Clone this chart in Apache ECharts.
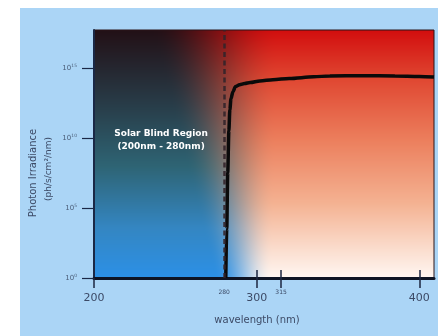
<!DOCTYPE html>
<html>
<head>
<meta charset="utf-8">
<script src="https://cdn.jsdelivr.net/npm/echarts@6/dist/echarts.min.js"></script>
<style>
  html, body { margin: 0; padding: 0; background: #ffffff; }
  #chart { width: 438px; height: 336px; }
</style>
</head>
<body>
<div id="chart"></div>
<script>
// Solar photon irradiance at ground level vs wavelength
const wavelength = [281.0, 281.6, 282.2, 282.9, 283.5, 284.2, 285.4, 287.0, 289.5, 292.6,
                    296, 302, 310, 320, 335, 345, 365, 385, 400, 409];
const irradiance = [1, 3.2e3, 3.2e7, 3.2e10, 1.0e12, 6.3e12, 2.0e13, 4.6e13, 6.3e13, 7.6e13,
                    8.9e13, 1.17e14, 1.41e14, 1.74e14, 2.29e14, 2.63e14, 2.75e14, 2.63e14, 2.45e14, 2.24e14];

const xMin = 200, xMax = 409;
const yMin = 1, yMax = Math.pow(10, 17.7);
const xLabelValues = [200, 280, 300, 315, 400];
const xMinorLabels = [280, 315];
const xTickValues = [200, 300, 315, 400];
const xInnerTickValues = [300, 315, 400];
const yTickValues = [1, 1e5, 1e10, 1e15];
const blindStart = 200, blindEnd = 280;

const grid = { left: 94, right: 4, top: 30, bottom: 58 };
const W = 438, H = 336;
const plotW = W - grid.left - grid.right;
const plotH = H - grid.top - grid.bottom;

// Two-dimensional colour wash for the plot panel: a cool/dark column on the left
// blending into a warm column on the right.
function hex(c) { return [parseInt(c.slice(1,3),16), parseInt(c.slice(3,5),16), parseInt(c.slice(5,7),16)]; }
function ramp(stops, t) {
  for (let i = 1; i < stops.length; i++) {
    if (t <= stops[i][0]) {
      const a = stops[i-1], b = stops[i];
      const k = (t - a[0]) / (b[0] - a[0]);
      return a[1].map((v, j) => v + (b[1][j] - v) * k);
    }
  }
  return stops[stops.length-1][1];
}
const leftStops = [[0, hex('#221016')], [0.3, hex('#283c48')], [0.55, hex('#2e6474')], [0.8, hex('#3486c2')], [1, hex('#2c90e6')]];
const rightStops = [[0, hex('#d20e0e')], [0.2, hex('#e04832')], [0.45, hex('#ec805e')], [0.7, hex('#f4b292')], [0.9, hex('#fbe0d2')], [1, hex('#fff6f1')]];

function buildPanel(w, h) {
  const cv = document.createElement('canvas');
  cv.width = w; cv.height = h;
  const ctx = cv.getContext('2d');
  const img = ctx.createImageData(w, h);
  for (let y = 0; y < h; y++) {
    const v = y / (h - 1);
    const L = ramp(leftStops, v), R = ramp(rightStops, v);
    const s = 56 + (121 - 56) * v;   // blend start (px from panel left)
    const e = 186 + (178 - 186) * v; // blend end
    for (let x = 0; x < w; x++) {
      let t = Math.min(1, Math.max(0, (x - s) / (e - s)));
      t = t * t * (3 - 2 * t);
      const i = (y * w + x) * 4;
      img.data[i]   = L[0] + (R[0] - L[0]) * t;
      img.data[i+1] = L[1] + (R[1] - L[1]) * t;
      img.data[i+2] = L[2] + (R[2] - L[2]) * t;
      img.data[i+3] = 255;
    }
  }
  ctx.putImageData(img, 0, 0);
  return cv;
}

const labelColor = '#3c4a66';
const font = 'DejaVu Sans';

const chart = echarts.init(document.getElementById('chart'), null, { renderer: 'canvas' });
chart.setOption({
  animation: false,
  backgroundColor: 'transparent',
  textStyle: { fontFamily: font },
  graphic: [
    { type: 'rect', z: -30, shape: { x: 20, y: 8, width: W - 20, height: H - 8 }, style: { fill: '#abd5f6' } },
    { type: 'image', z: -20, style: { image: buildPanel(plotW, plotH), x: grid.left, y: grid.top, width: plotW, height: plotH } },
    { type: 'text', x: 33, y: 173, rotation: Math.PI / 2,
      style: { text: 'Photon Irradiance', fill: labelColor, font: '10px "DejaVu Sans"', textAlign: 'center', textVerticalAlign: 'middle' } },
    { type: 'text', x: 49, y: 169, rotation: Math.PI / 2,
      style: { text: '(ph/s/cm²/nm)', fill: labelColor, font: '9px "DejaVu Sans"', textAlign: 'center', textVerticalAlign: 'middle' } }
  ],
  grid: {
    left: grid.left, right: grid.right, top: grid.top, bottom: grid.bottom,
    show: true, borderColor: '#2a1418', borderWidth: 1, backgroundColor: 'transparent'
  },
  xAxis: [
    {
      type: 'value', min: xMin, max: xMax,
      name: 'wavelength (nm)', nameLocation: 'middle', nameGap: 37,
      nameTextStyle: { color: labelColor, fontSize: 10, fontFamily: font, padding: [0, 14, 0, 0] },
      axisLine: { show: true, onZero: false, lineStyle: { color: '#0e1424', width: 3 } },
      axisTick: { show: true, inside: false, length: 10, customValues: xTickValues, lineStyle: { color: '#1c2640', width: 1.5 } },
      axisLabel: {
        customValues: xLabelValues, margin: 11, color: labelColor,
        formatter: v => xMinorLabels.indexOf(v) >= 0 ? '{s|' + v + '}' : '{b|' + v + '}',
        rich: {
          b: { fontSize: 11, fontFamily: font, color: labelColor, padding: [4, 0, 0, 0] },
          s: { fontSize: 6, fontFamily: font, color: labelColor }
        }
      },
      splitLine: { show: false }
    },
    {
      type: 'value', min: xMin, max: xMax, gridIndex: 0, position: 'bottom',
      axisLine: { show: false },
      axisTick: { show: true, inside: true, length: 8, customValues: xInnerTickValues, lineStyle: { color: '#1c2640', width: 1.5 } },
      axisLabel: { show: false },
      splitLine: { show: false }
    }
  ],
  yAxis: {
    type: 'log', min: yMin, max: yMax, logBase: 10,
    axisLine: { show: true, lineStyle: { color: '#1a2846', width: 2 } },
    axisTick: { show: true, length: 12, customValues: yTickValues, lineStyle: { color: '#1a2846', width: 1.2 } },
    axisLabel: {
      customValues: yTickValues, margin: 17,
      formatter: v => '{b|10}{s|' + Math.round(Math.log10(v)) + '}',
      rich: {
        b: { fontSize: 7, fontFamily: font, color: '#4b5d78', lineHeight: 9 },
        s: { fontSize: 4.5, fontFamily: font, color: '#4b5d78', lineHeight: 9, verticalAlign: 'top' }
      }
    },
    splitLine: { show: false }
  },
  series: [{
    type: 'line',
    data: wavelength.map((x, i) => [x, irradiance[i]]),
    xAxisIndex: 0,
    showSymbol: false,
    smooth: 0.3,
    smoothMonotone: 'x',
    clip: true,
    lineStyle: { color: '#0a0a0a', width: 3.5 },
    markLine: {
      silent: true, symbol: 'none', label: { show: false },
      lineStyle: { type: [5, 3.5], color: '#33242a', width: 2.5, opacity: 0.9 },
      data: [{ xAxis: blindEnd }]
    },
    markArea: {
      silent: true,
      itemStyle: { color: 'transparent' },
      label: {
        show: true, position: 'inside', offset: [2, -14],
        color: '#ffffff', fontSize: 9, fontWeight: 'bold', fontFamily: font, lineHeight: 13, align: 'center',
        formatter: 'Solar Blind Region\n(' + blindStart + 'nm - ' + blindEnd + 'nm)'
      },
      data: [[{ xAxis: blindStart }, { xAxis: blindEnd }]]
    }
  }]
});
</script>
</body>
</html>
